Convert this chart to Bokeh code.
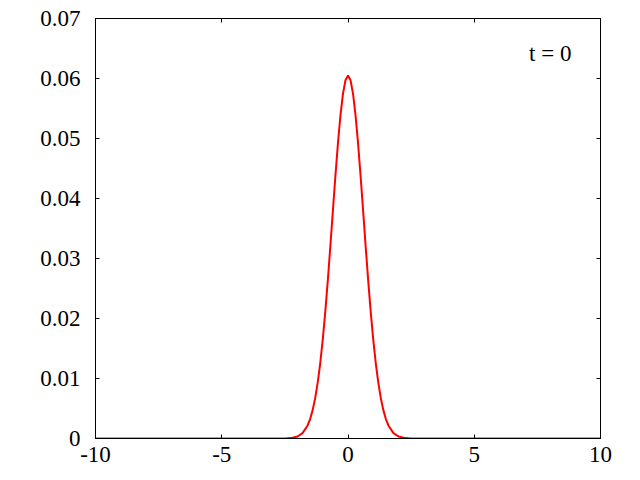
from bokeh.plotting import figure
from bokeh.models import LinearAxis, Range1d, FixedTicker, Label
from bokeh.embed import file_html
from bokeh.resources import INLINE

# Values (t = 0 wave packet density)
x_vals = [-10.0, -3.0, -2.5, -2.2, -2.0, -1.8, -1.6, -1.5, -1.4, -1.3, -1.2, -1.1, -1.0,
          -0.9, -0.8, -0.7, -0.6, -0.5, -0.4, -0.3, -0.2, -0.1, 0.0,
          0.1, 0.2, 0.3, 0.4, 0.5, 0.6, 0.7, 0.8, 0.9,
          1.0, 1.1, 1.2, 1.3, 1.4, 1.5, 1.6, 1.8, 2.0, 2.2, 2.5, 3.0, 10.0]
y_vals = [0.0, 0.0, 0.00002, 0.00011, 0.00033, 0.00089, 0.00217, 0.00324, 0.00473, 0.00672, 0.00930, 0.01254, 0.01648,
          0.02110, 0.02632, 0.03199, 0.03788, 0.04370, 0.04913, 0.05381, 0.05743, 0.05972, 0.0605,
          0.05972, 0.05743, 0.05381, 0.04913, 0.04370, 0.03788, 0.03199, 0.02632, 0.02110,
          0.01648, 0.01254, 0.00930, 0.00672, 0.00473, 0.00324, 0.00217, 0.00089, 0.00033, 0.00011, 0.00002, 0.0, 0.0]

x_ticks = [-10, -5, 0, 5, 10]
y_ticks = [0, 0.01, 0.02, 0.03, 0.04, 0.05, 0.06, 0.07]
y_tick_labels = {0: "0", 0.01: "0.01", 0.02: "0.02", 0.03: "0.03", 0.04: "0.04",
                 0.05: "0.05", 0.06: "0.06", 0.07: "0.07"}
x_tick_labels = {-10: "-10", -5: "-5", 0: "0", 5: "5", 10: "10"}
annotation = "t = 0"

FONT = "Liberation Serif"
FS = "23px"

p = figure(frame_width=505, frame_height=420,
           x_range=Range1d(-10, 10), y_range=Range1d(0, 0.07),
           output_backend="svg", toolbar_location=None,
           min_border_left=95, min_border_right=40,
           min_border_top=18, min_border_bottom=42,
           x_axis_location=None, y_axis_location=None)
p.grid.visible = False
p.outline_line_color = "black"
p.outline_line_width = 1
p.background_fill_color = "white"
p.border_fill_color = "white"


def style(ax, labels=True):
    ax.axis_line_color = "black"
    ax.major_tick_in = 4
    ax.major_tick_out = 0
    ax.minor_tick_line_color = None
    ax.major_tick_line_color = "black"
    ax.major_label_text_font = FONT
    ax.major_label_text_font_size = FS
    ax.major_label_text_color = "black"
    if not labels:
        ax.major_label_text_font_size = "0px"
        ax.major_label_text_color = None


bx = LinearAxis(ticker=FixedTicker(ticks=x_ticks), major_label_overrides=x_tick_labels)
style(bx)
bx.major_label_standoff = 8
p.add_layout(bx, "below")

ly = LinearAxis(ticker=FixedTicker(ticks=y_ticks), major_label_overrides=y_tick_labels)
style(ly)
ly.major_label_standoff = 15
p.add_layout(ly, "left")

tx = LinearAxis(ticker=FixedTicker(ticks=x_ticks))
style(tx, labels=False)
p.add_layout(tx, "above")

ry = LinearAxis(ticker=FixedTicker(ticks=y_ticks))
style(ry, labels=False)
p.add_layout(ry, "right")

p.line(x_vals, y_vals, line_color="red", line_width=2)

p.add_layout(Label(x=8.85, y=0.0642, text=annotation, text_align="right",
                   text_baseline="alphabetic", text_font=FONT,
                   text_font_size=FS, text_color="black"))

open("out.html", "w").write(file_html(p, INLINE))
